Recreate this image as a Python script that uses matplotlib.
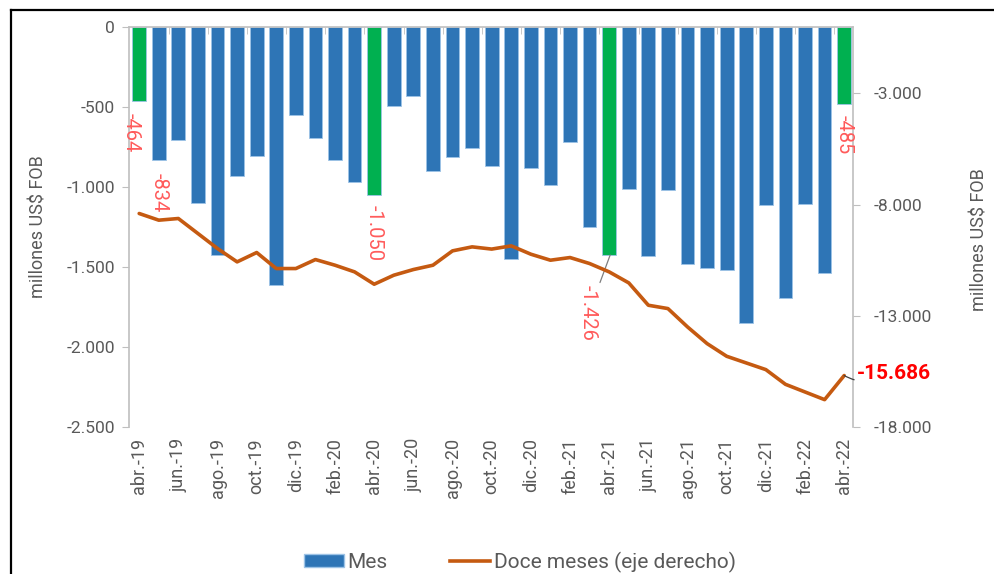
import matplotlib
matplotlib.use("Agg")
import matplotlib.pyplot as plt
import numpy as np
from matplotlib.lines import Line2D
from matplotlib.patches import Patch

plt.rcParams['font.family'] = ['Roboto', 'DejaVu Sans']

# meses abr-19 .. abr-22
meses = ["abr.-19", "may.-19", "jun.-19", "jul.-19", "ago.-19", "sep.-19", "oct.-19", "nov.-19",
         "dic.-19", "ene.-20", "feb.-20", "mar.-20", "abr.-20", "may.-20", "jun.-20", "jul.-20",
         "ago.-20", "sep.-20", "oct.-20", "nov.-20", "dic.-20", "ene.-21", "feb.-21", "mar.-21",
         "abr.-21", "may.-21", "jun.-21", "jul.-21", "ago.-21", "sep.-21", "oct.-21", "nov.-21",
         "dic.-21", "ene.-22", "feb.-22", "mar.-22", "abr.-22"]

# saldo mensual (millones US$ FOB)
mes = [-464, -834, -708, -1104, -1427, -933, -808, -1615,
       -554, -696, -833, -971, -1050, -494, -433, -902,
       -815, -758, -869, -1452, -885, -990, -723, -1250,
       -1426, -1015, -1431, -1021, -1485, -1504, -1521, -1850,
       -1115, -1696, -1106, -1540, -485]

# acumulado doce meses (eje derecho)
doce = [-8400, -8700, -8625, -9300, -9975, -10575, -10155, -10875,
        -10875, -10470, -10725, -11025, -11580, -11175, -10920, -10725,
        -10080, -9900, -10000, -9855, -10230, -10500, -10380, -10650,
        -11025, -11520, -12525, -12675, -13500, -14250, -14820, -15120,
        -15420, -16080, -16425, -16770, -15686]

azul = "#2E75B6"
verde = "#00B050"
naranjo = "#C55A11"
rojo_lbl = "#FF5B5B"
gris_txt = "#595959"
gris_ax = "#BFBFBF"

x = np.arange(len(meses))
colores = [verde if m.startswith("abr") else azul for m in meses]

fig = plt.figure(figsize=(9.95, 5.74), dpi=100)
ax = fig.add_axes([129 / 995, 1 - 427 / 574, (853 - 129) / 995, (427 - 26.7) / 574])

ax.bar(x, mes, width=0.7, color=colores, edgecolor="#9DC3E6", linewidth=0.6, zorder=2)
ax.set_xlim(-0.52, 36.45)
ax.set_ylim(-2500, 0)
ax.set_yticks(np.arange(-2500, 1, 500))
ax.set_yticklabels([f"{v:,}".replace(",", ".") for v in range(-2500, 1, 500)])

ax.set_xticks(x[::2])
ax.set_xticklabels(meses[::2], rotation=90)
ax.set_xticks(np.arange(1.5, 36, 2), minor=True)
ax.tick_params(axis="x", which="major", length=0, pad=8, labelsize=13, colors=gris_txt)
ax.tick_params(axis="x", which="minor", top=True, bottom=False, direction="in", length=5,
               color=gris_ax)
ax.tick_params(axis="y", length=5, color=gris_ax, labelsize=12.5, labelcolor=gris_txt, pad=5)

ax.spines["bottom"].set_visible(False)
for s in ["left", "right", "top"]:
    ax.spines[s].set_color(gris_ax)
    ax.spines[s].set_linewidth(1.2)

ax.set_ylabel("millones US$ FOB", fontsize=13, color=gris_txt)
ax.yaxis.set_label_coords(-0.112, 0.5)

ax2 = ax.twinx()
ax2.plot(x, doce, color=naranjo, lw=2.6, solid_joinstyle="round", solid_capstyle="round", zorder=3)
ax2.set_ylim(-18000, 0)
ax2.set_yticks(np.arange(-18000, -2999, 5000))
ax2.set_yticklabels([f"{v:,}".replace(",", ".") for v in range(-18000, -2999, 5000)])
ax2.tick_params(axis="y", length=5, color=gris_ax, labelsize=12.5, labelcolor=gris_txt, pad=10)
for s in ["left", "right", "top", "bottom"]:
    ax2.spines[s].set_visible(False)
ax.set_zorder(1)
ax.patch.set_visible(False)
ax2.set_zorder(2)

# etiquetas de datos
kw = dict(rotation=-90, color=rojo_lbl, fontsize=14.5, ha="center", va="top")
ax.text(-0.4, -540, f"{mes[0]}", **kw)
ax.text(1, -915, f"{mes[1]}", **kw)
ax.text(12, -1115, "-1.050", **kw)
ax.text(36, -553, f"{mes[36]}", **kw)
ax.annotate("-1.426", xy=(24.05, mes[24]), xytext=(22.95, -1615), textcoords="data",
            arrowprops=dict(arrowstyle="-", color="#7F7F7F", lw=0.9, shrinkA=0, shrinkB=0),
            **kw)

ax2.annotate("-15.686", xy=(36, doce[36]), xytext=(36.65, -15580), textcoords="data",
             color="#FF0000", fontsize=15, fontweight="bold", ha="left", va="center",
             annotation_clip=False,
             arrowprops=dict(arrowstyle="-", color="#404040", lw=0.9, shrinkA=0, shrinkB=0,
                             connectionstyle="arc3,rad=-0.3"))

fig.text(0.984, 1 - 240 / 574, "millones US$ FOB", rotation=90, fontsize=13, color=gris_txt,
         ha="center", va="center")

handles = [Patch(facecolor=azul, edgecolor="#9DC3E6"),
           Line2D([0], [0], color=naranjo, lw=2.6)]
fig.legend(handles, ["Mes", "Doce meses (eje derecho)"], loc="center",
           bbox_to_anchor=(520 / 995, 1 - 562 / 574), ncol=2, frameon=False, fontsize=15,
           handlelength=1.9, handleheight=0.6, handletextpad=0.2, columnspacing=3.0,
           labelcolor=gris_txt)

# marco de la imagen
fig.add_artist(Line2D([11 / 995, 1], [1 - 10 / 574, 1 - 10 / 574], transform=fig.transFigure,
                      color="black", lw=1.6))
fig.add_artist(Line2D([11 / 995, 11 / 995], [0, 1 - 10 / 574], transform=fig.transFigure,
                      color="black", lw=1.6))

fig.savefig("out.png", dpi=100)
